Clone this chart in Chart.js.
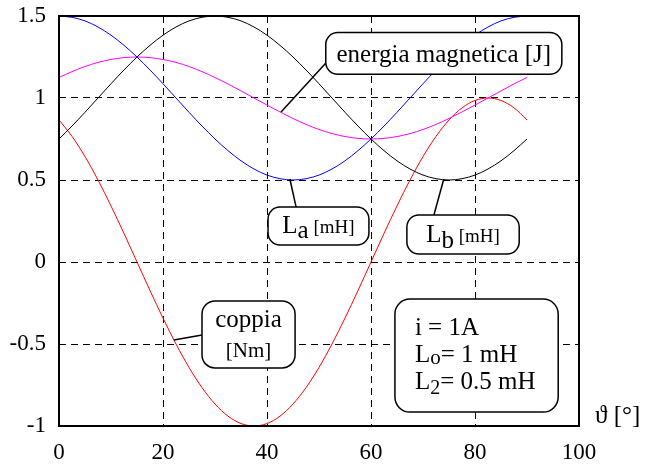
<!DOCTYPE html>
<html>
<head>
<meta charset="utf-8">
<script src="https://cdn.jsdelivr.net/npm/chart.js@4/dist/chart.umd.min.js"></script>
<style>
html,body{margin:0;padding:0;background:#fff;}
canvas{display:block;}
</style>
</head>
<body>
<canvas id="c" width="646" height="464"></canvas>
<script>
// ---- data ----
const theta = [0,2.5,5,7.5,10,12.5,15,17.5,20,22.5,25,27.5,30,32.5,35,37.5,40,42.5,45,47.5,50,52.5,55,57.5,60,62.5,65,67.5,70,72.5,75,77.5,80,82.5,85,87.5,90];
const La = [1.5,1.492,1.47,1.433,1.383,1.321,1.25,1.171,1.087,1.0,0.913,0.829,0.75,0.679,0.617,0.567,0.53,0.508,0.5,0.508,0.53,0.567,0.617,0.679,0.75,0.829,0.913,1.0,1.087,1.171,1.25,1.321,1.383,1.433,1.47,1.492,1.5];
const Lb = [0.75,0.829,0.913,1.0,1.087,1.171,1.25,1.321,1.383,1.433,1.47,1.492,1.5,1.492,1.47,1.433,1.383,1.321,1.25,1.171,1.087,1.0,0.913,0.829,0.75,0.679,0.617,0.567,0.53,0.508,0.5,0.508,0.53,0.567,0.617,0.679,0.75];
const energy = [1.125,1.161,1.192,1.217,1.235,1.246,1.25,1.246,1.235,1.217,1.192,1.161,1.125,1.086,1.043,1.0,0.957,0.915,0.875,0.839,0.808,0.783,0.765,0.754,0.75,0.754,0.765,0.783,0.808,0.839,0.875,0.915,0.957,1.0,1.043,1.086,1.125];
const torque = [0.866,0.766,0.643,0.5,0.342,0.174,0,-0.174,-0.342,-0.5,-0.643,-0.766,-0.866,-0.94,-0.985,-1,-0.985,-0.94,-0.866,-0.766,-0.643,-0.5,-0.342,-0.174,0,0.174,0.342,0.5,0.643,0.766,0.866,0.94,0.985,1,0.985,0.94,0.866];
const xTicks = [0,20,40,60,80,100];
const yTicks = [-1,-0.5,0,0.5,1,1.5];
const yTickLabels = ['-1','-0.5','0','0.5','1','1.5'];

const FONT = "'Liberation Serif','Times New Roman',serif";

function pts(ys){ return theta.map((t,i)=>({x:t,y:ys[i]})); }
function ds(label, ys, color){
  return {label, data: pts(ys), borderColor: color, borderWidth: 1, pointRadius: 0,
          fill: false, cubicInterpolationMode: 'monotone'};
}

// annotation boxes in data coordinates
const notes = [
  {box:[51.3,1.40,96.7,1.145], r:12, leader:[[51.5,1.22],[42.7,0.915]],
   lines:[{align:'center', dy:9, runs:[{t:'energia magnetica [J]', s:25}]}]},
  {box:[40.2,0.335,59.6,0.104], r:12, leader:[[44.4,0.506],[45.6,0.335]],
   lines:[{align:'center', dy:7, runs:[{t:'L', s:25},{t:'a', s:25, dy:5},{t:' [mH]', s:19}]}]},
  {box:[66.9,0.287,88.5,0.049], r:12, leader:[[74.0,0.506],[72.1,0.287]],
   lines:[{align:'center', dy:7.5, runs:[{t:'L', s:25},{t:'b', s:25, dy:6},{t:' [mH]', s:19}]}]},
  {box:[27.5,-0.238,45.4,-0.646], r:13, leader:[[22.1,-0.476],[27.5,-0.445]],
   lines:[{align:'center', dy:-7.5, runs:[{t:'coppia', s:25}]},
          {align:'center', dy:22.5, runs:[{t:'[Nm]', s:21}]}]},
  {box:[64.6,-0.226,96.0,-0.915], r:15, leader:null,
   lines:[{align:'left', dx:20, dy:-21, runs:[{t:'i = 1A', s:25}]},
          {align:'left', dx:20, dy:6, runs:[{t:'L', s:25},{t:'o', s:21, dy:2},{t:'= 1 mH', s:25}]},
          {align:'left', dx:20, dy:33, runs:[{t:'L', s:25},{t:'2', s:20, dy:5},{t:'= 0.5 mH', s:25}]}]}
];

function rrect(ctx,x,y,w,h,r){
  ctx.beginPath();
  ctx.moveTo(x+r,y);
  ctx.arcTo(x+w,y,x+w,y+h,r);
  ctx.arcTo(x+w,y+h,x,y+h,r);
  ctx.arcTo(x,y+h,x,y,r);
  ctx.arcTo(x,y,x+w,y,r);
  ctx.closePath();
}
function drawRuns(ctx,x,y,runs,align){
  let total=0;
  runs.forEach(r=>{ctx.font=r.s+'px '+FONT; r.w=ctx.measureText(r.t).width; total+=r.w;});
  let cx = align==='center' ? x-total/2 : x;
  runs.forEach(r=>{ctx.font=r.s+'px '+FONT; ctx.fillText(r.t,cx,y+(r.dy||0)); cx+=r.w;});
}

const overlay = {
  id:'overlay',
  afterDatasetsDraw(chart){
    const ctx=chart.ctx, a=chart.chartArea, xs=chart.scales.x, ys=chart.scales.y;
    ctx.save();
    ctx.setLineDash([]);
    // frame
    ctx.strokeStyle='#000'; ctx.lineWidth=2;
    ctx.strokeRect(a.left,a.top,a.right-a.left,a.bottom-a.top);
    // notes
    ctx.fillStyle='#000'; ctx.textBaseline='alphabetic';
    notes.forEach(n=>{
      const x1=xs.getPixelForValue(n.box[0]), y1=ys.getPixelForValue(n.box[1]);
      const x2=xs.getPixelForValue(n.box[2]), y2=ys.getPixelForValue(n.box[3]);
      if(n.leader){
        ctx.beginPath();
        ctx.moveTo(xs.getPixelForValue(n.leader[0][0]), ys.getPixelForValue(n.leader[0][1]));
        ctx.lineTo(xs.getPixelForValue(n.leader[1][0]), ys.getPixelForValue(n.leader[1][1]));
        ctx.lineWidth=1.5; ctx.strokeStyle='#000'; ctx.stroke();
      }
      rrect(ctx,x1,y1,x2-x1,y2-y1,n.r);
      ctx.fillStyle='#fff'; ctx.fill();
      ctx.lineWidth=1.5; ctx.strokeStyle='#000'; ctx.stroke();
      ctx.fillStyle='#000';
      const cx=(x1+x2)/2, cy=(y1+y2)/2;
      n.lines.forEach(l=>{
        const x = l.align==='center' ? cx : x1+(l.dx||0);
        drawRuns(ctx,x,cy+l.dy,l.runs,l.align);
      });
    });
    // axis title
    drawRuns(ctx, 595, 423, [{t:'\u03D1 [\u00B0]', s:25}], 'left');
    ctx.restore();
  }
};

const edgeX = v => (v===xTicks[0]||v===xTicks[xTicks.length-1]);
const edgeY = v => (v===yTicks[0]||v===yTicks[yTicks.length-1]);

new Chart(document.getElementById('c'), {
  type:'line',
  data:{datasets:[
    ds('L_a', La, '#0000ff'),
    ds('L_b', Lb, '#000000'),
    ds('energia magnetica', energy, '#ff00ff'),
    ds('coppia', torque, '#ff0000')
  ]},
  options:{
    responsive:false, animation:false, devicePixelRatio:1,
    layout:{padding:{left:0,right:67,top:16,bottom:0}},
    plugins:{legend:{display:false}, tooltip:{enabled:false}},
    scales:{
      x:{type:'linear', min:0, max:100,
         afterFit(s){s.height=38; s.paddingLeft=0; s.paddingRight=0;},
         afterBuildTicks(s){s.ticks=xTicks.map(v=>({value:v}));},
         ticks:{color:'#000', padding:13, font:{family:FONT,size:23}, maxRotation:0},
         grid:{drawTicks:false, lineWidth:1, color:c=>edgeX(c.tick.value)?'rgba(0,0,0,0)':'#000'},
         border:{display:false, dash:[7,5]}},
      y:{type:'linear', min:-1, max:1.5,
         afterFit(s){s.width=59; s.paddingTop=0; s.paddingBottom=0;},
         afterBuildTicks(s){s.ticks=yTicks.map(v=>({value:v}));},
         ticks:{color:'#000', padding:13, font:{family:FONT,size:23},
                callback:(v)=>{const i=yTicks.indexOf(v); return i>=0?yTickLabels[i]:'';}},
         grid:{drawTicks:false, lineWidth:1, color:c=>edgeY(c.tick.value)?'rgba(0,0,0,0)':'#000'},
         border:{display:false, dash:[7,5]}}
    }
  },
  plugins:[overlay]
});
</script>
</body>
</html>
